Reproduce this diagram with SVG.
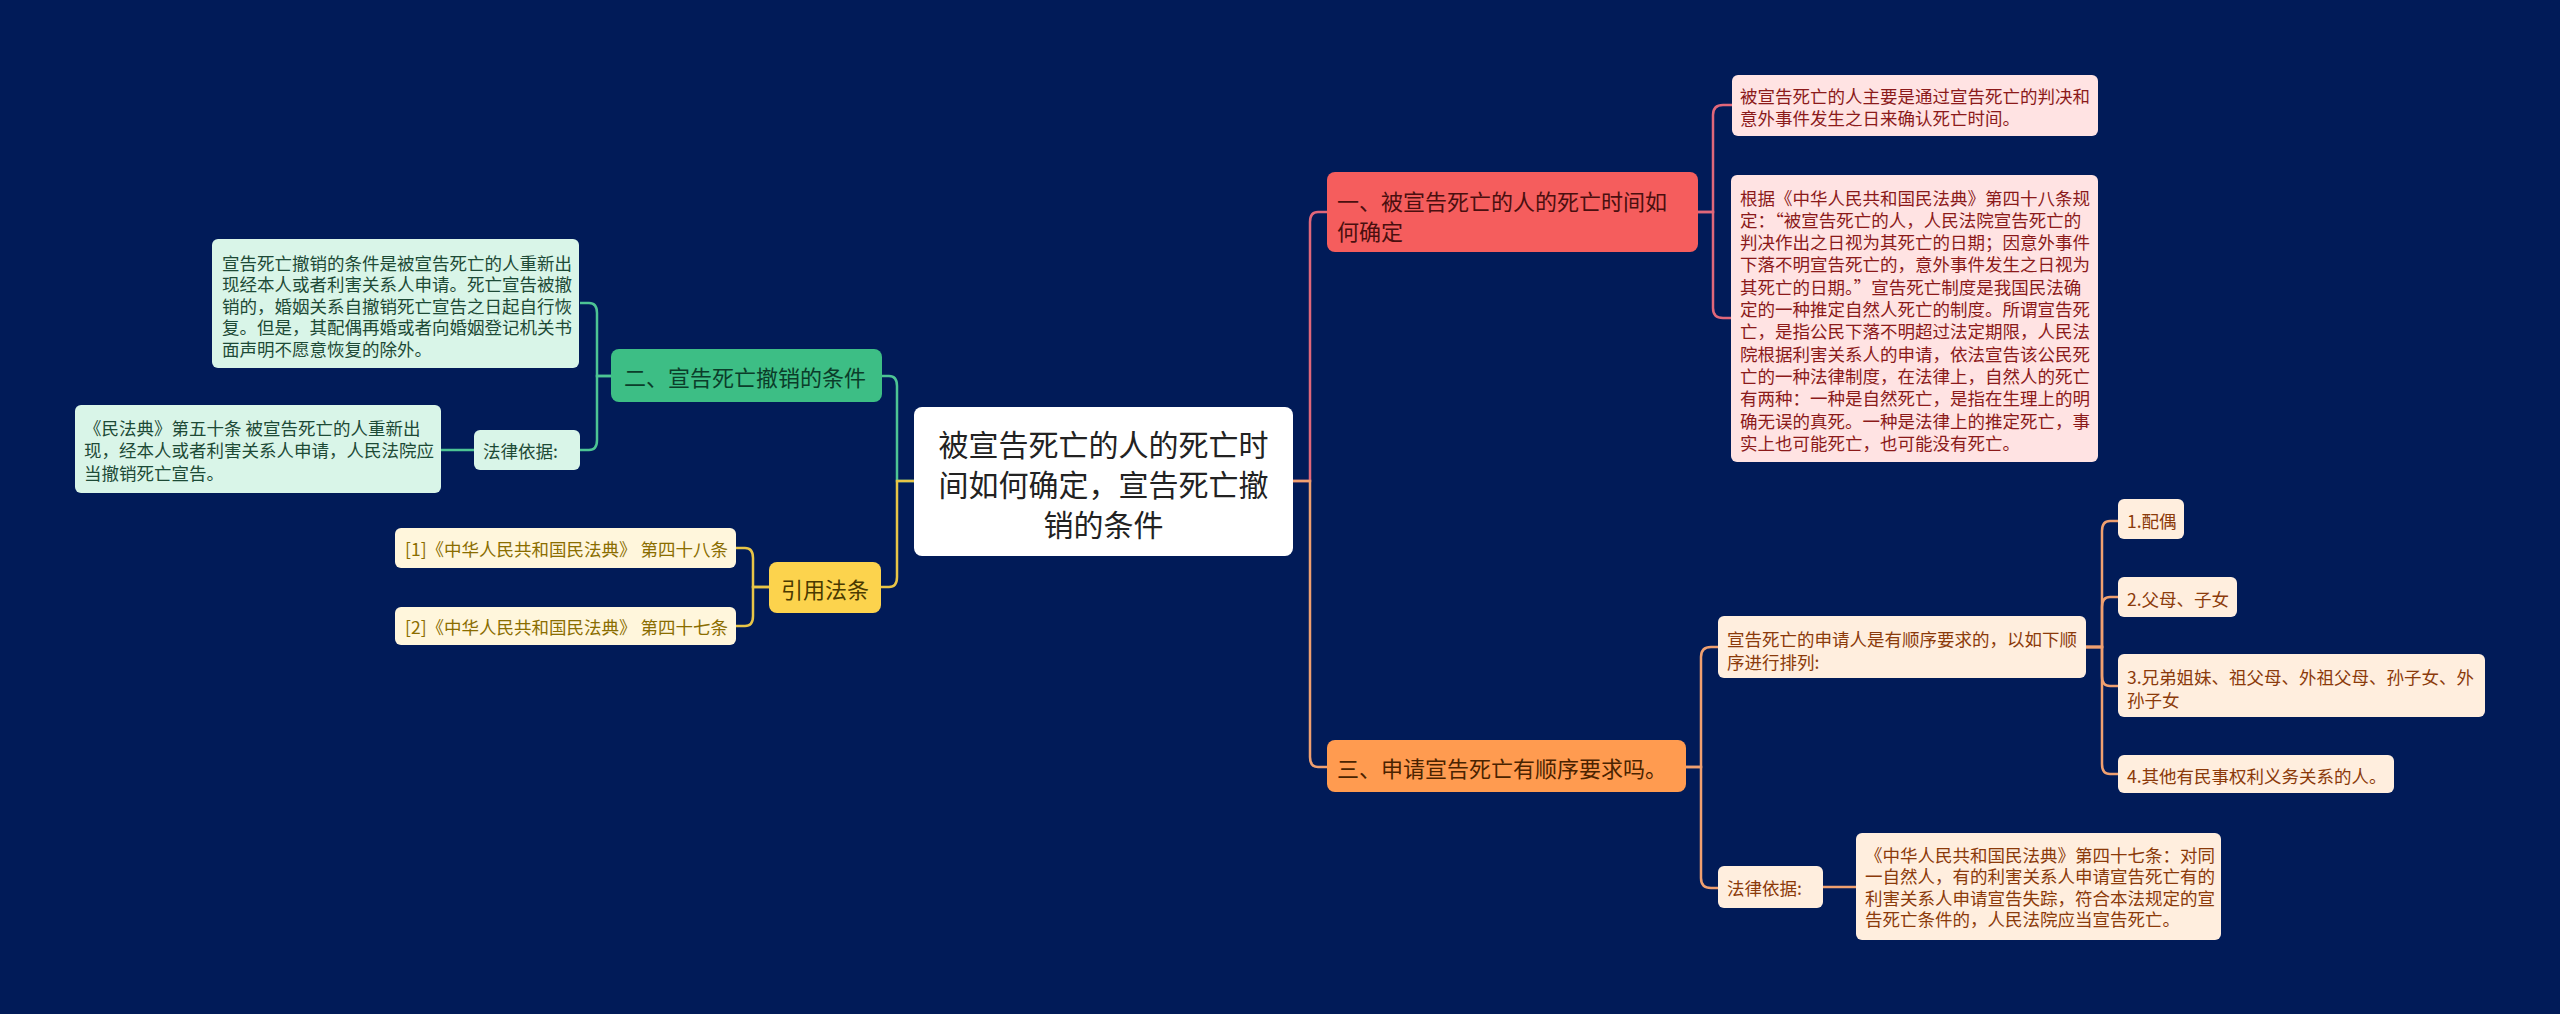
<svg xmlns="http://www.w3.org/2000/svg" width="2560" height="1014" viewBox="0 0 2560 1014">
<style>
text{font-family:"Noto Sans CJK SC","Noto Sans",sans-serif;dominant-baseline:central}
.c{font-size:30px;fill:#222;text-anchor:middle}
.m{font-size:22px}
.s{font-size:17.5px}
.ln{fill:none;stroke-width:2.5}
</style>
<rect width="2560" height="1014" fill="#011b58"/>
<g id="connectors">
<path class="ln" stroke="#e0677a" d="M1293 481H1310V222Q1310 212 1318 212H1327"/>
<path class="ln" stroke="#f0a070" d="M1293 481H1310V757Q1310 767 1318 767H1327"/>
<path class="ln" stroke="#e0677a" d="M1698 212H1713V115Q1713 105 1723 105H1732"/>
<path class="ln" stroke="#e0677a" d="M1698 212H1713V308Q1713 318 1723 318H1731"/>
<path class="ln" stroke="#f0a070" d="M1686 767H1701V657Q1701 647 1711 647H1718"/>
<path class="ln" stroke="#f0a070" d="M1686 767H1701V878Q1701 888 1711 888H1718"/>
<path class="ln" stroke="#f0a070" d="M2086 647H2102V531Q2102 521 2110 521H2118"/>
<path class="ln" stroke="#f0a070" d="M2086 647H2102V607Q2102 597 2110 597H2118"/>
<path class="ln" stroke="#f0a070" d="M2086 647H2102V676Q2102 686 2110 686H2118"/>
<path class="ln" stroke="#f0a070" d="M2086 647H2102V764Q2102 774 2110 774H2118"/>
<path class="ln" stroke="#f0a070" d="M1823 887H1856"/>
<path class="ln" stroke="#4dc494" d="M914 481H897V386Q897 376 889 376H882"/>
<path class="ln" stroke="#e8c547" d="M914 481H897V577Q897 587 889 587H881"/>
<path class="ln" stroke="#4dc494" d="M611 376H597V313Q597 303 589 303H580"/>
<path class="ln" stroke="#4dc494" d="M611 376H597V440Q597 450 589 450H580"/>
<path class="ln" stroke="#4dc494" d="M474 450H441"/>
<path class="ln" stroke="#e8c547" d="M769 587H753V558Q753 548 745 548H736"/>
<path class="ln" stroke="#e8c547" d="M769 587H753V616Q753 626 745 626H736"/>
</g>
<g id="center">
<rect x="914" y="407" width="379" height="149" rx="8" fill="#fff"/>
<text class="c" x="1103.5" y="443">被宣告死亡的人的死亡时</text>
<text class="c" x="1103.5" y="483">间如何确定，宣告死亡撤</text>
<text class="c" x="1103.5" y="523">销的条件</text>
</g>
<g id="n1">
<rect x="1327" y="172" width="371" height="80" rx="8" fill="#f55d5d"/>
<text class="m" x="1337" y="200" fill="#4a0f0f">一、被宣告死亡的人的死亡时间如</text>
<text class="m" x="1337" y="230" fill="#4a0f0f">何确定</text>
</g>
<g id="n1a">
<rect x="1732" y="75" width="366" height="61" rx="6" fill="#ffe3e3"/>
<text class="s" x="1740" y="95" fill="#8b1a1a">被宣告死亡的人主要是通过宣告死亡的判决和</text>
<text class="s" x="1740" y="117" fill="#8b1a1a">意外事件发生之日来确认死亡时间。</text>
</g>
<g id="n1b" fill="#8b1a1a">
<rect x="1731" y="175" width="367" height="287" rx="6" fill="#ffe3e3"/>
<text class="s" x="1740" y="197">根据《中华人民共和国民法典》第四十八条规</text>
<text class="s" x="1740" y="219.3">定：“被宣告死亡的人，人民法院宣告死亡的</text>
<text class="s" x="1740" y="241.6">判决作出之日视为其死亡的日期；因意外事件</text>
<text class="s" x="1740" y="263.9">下落不明宣告死亡的，意外事件发生之日视为</text>
<text class="s" x="1740" y="286.2">其死亡的日期。”宣告死亡制度是我国民法确</text>
<text class="s" x="1740" y="308.5">定的一种推定自然人死亡的制度。所谓宣告死</text>
<text class="s" x="1740" y="330.8">亡，是指公民下落不明超过法定期限，人民法</text>
<text class="s" x="1740" y="353.1">院根据利害关系人的申请，依法宣告该公民死</text>
<text class="s" x="1740" y="375.4">亡的一种法律制度，在法律上，自然人的死亡</text>
<text class="s" x="1740" y="397.7">有两种：一种是自然死亡，是指在生理上的明</text>
<text class="s" x="1740" y="420">确无误的真死。一种是法律上的推定死亡，事</text>
<text class="s" x="1740" y="442.3">实上也可能死亡，也可能没有死亡。</text>
</g>
<g id="n3">
<rect x="1327" y="740" width="359" height="52" rx="8" fill="#ff9b50"/>
<text class="m" x="1337" y="767" fill="#4a2300">三、申请宣告死亡有顺序要求吗。</text>
</g>
<g id="n3a" fill="#8b3a0a">
<rect x="1718" y="616" width="368" height="62" rx="6" fill="#ffeede"/>
<text class="s" x="1727" y="638">宣告死亡的申请人是有顺序要求的，以如下顺</text>
<text class="s" x="1727" y="661">序进行排列:</text>
</g>
<g id="n3a1" fill="#8b3a0a">
<rect x="2118" y="499" width="66" height="40" rx="6" fill="#ffeede"/>
<text class="s" x="2127" y="520">1.配偶</text>
</g>
<g id="n3a2" fill="#8b3a0a">
<rect x="2118" y="577" width="119" height="40" rx="6" fill="#ffeede"/>
<text class="s" x="2127" y="598">2.父母、子女</text>
</g>
<g id="n3a3" fill="#8b3a0a">
<rect x="2118" y="654" width="367" height="63" rx="6" fill="#ffeede"/>
<text class="s" x="2127" y="676">3.兄弟姐妹、祖父母、外祖父母、孙子女、外</text>
<text class="s" x="2127" y="699">孙子女</text>
</g>
<g id="n3a4" fill="#8b3a0a">
<rect x="2118" y="755" width="276" height="38" rx="6" fill="#ffeede"/>
<text class="s" x="2127" y="775">4.其他有民事权利义务关系的人。</text>
</g>
<g id="n3b" fill="#8b3a0a">
<rect x="1718" y="866" width="105" height="42" rx="6" fill="#ffeede"/>
<text class="s" x="1727" y="887">法律依据:</text>
</g>
<g id="n3b1" fill="#8b3a0a">
<rect x="1856" y="833" width="365" height="107" rx="6" fill="#ffeede"/>
<text class="s" x="1865" y="854">《中华人民共和国民法典》第四十七条：对同</text>
<text class="s" x="1865" y="875.5">一自然人，有的利害关系人申请宣告死亡有的</text>
<text class="s" x="1865" y="897">利害关系人申请宣告失踪，符合本法规定的宣</text>
<text class="s" x="1865" y="918.5">告死亡条件的，人民法院应当宣告死亡。</text>
</g>
<g id="n2">
<rect x="611" y="349" width="271" height="53" rx="8" fill="#3dbe85"/>
<text class="m" x="624" y="376" fill="#0b3d2a">二、宣告死亡撤销的条件</text>
</g>
<g id="n2a" fill="#1d4a36">
<rect x="212" y="239" width="367" height="129" rx="6" fill="#d9f5e8"/>
<text class="s" x="222" y="262">宣告死亡撤销的条件是被宣告死亡的人重新出</text>
<text class="s" x="222" y="283.5">现经本人或者利害关系人申请。死亡宣告被撤</text>
<text class="s" x="222" y="305">销的，婚姻关系自撤销死亡宣告之日起自行恢</text>
<text class="s" x="222" y="326.5">复。但是，其配偶再婚或者向婚姻登记机关书</text>
<text class="s" x="222" y="348">面声明不愿意恢复的除外。</text>
</g>
<g id="n2b" fill="#1d4a36">
<rect x="474" y="430" width="106" height="40" rx="6" fill="#d9f5e8"/>
<text class="s" x="483" y="450">法律依据:</text>
</g>
<g id="n2b1" fill="#1d4a36">
<rect x="75" y="405" width="366" height="88" rx="6" fill="#d9f5e8"/>
<text class="s" x="84" y="427">《民法典》第五十条 被宣告死亡的人重新出</text>
<text class="s" x="84" y="449.5">现，经本人或者利害关系人申请，人民法院应</text>
<text class="s" x="84" y="472">当撤销死亡宣告。</text>
</g>
<g id="n4">
<rect x="769" y="562" width="112" height="51" rx="8" fill="#fcd34d"/>
<text class="m" x="825" y="587.5" text-anchor="middle" fill="#4a3a00">引用法条</text>
</g>
<g id="n4a" fill="#8a6d00">
<rect x="395" y="528" width="341" height="40" rx="6" fill="#fff6dc"/>
<text class="s" x="405" y="548">[1]《中华人民共和国民法典》 第四十八条</text>
</g>
<g id="n4b" fill="#8a6d00">
<rect x="395" y="607" width="341" height="38" rx="6" fill="#fff6dc"/>
<text class="s" x="405" y="626">[2]《中华人民共和国民法典》 第四十七条</text>
</g>
</svg>
